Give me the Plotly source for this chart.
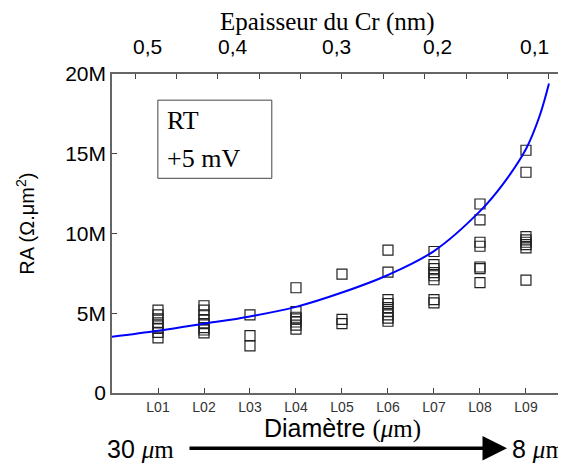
import plotly.graph_objects as go

# sample labels along the bottom axis
categories = ['L01', 'L02', 'L03', 'L04', 'L05', 'L06', 'L07', 'L08', 'L09']

# RA values (M ohm.um^2) read per sample
ra_L01 = [5.2, 4.9, 4.65, 4.4, 4.2, 4.05, 3.8, 3.45]
ra_L02 = [5.47, 5.2, 4.9, 4.6, 4.35, 4.1, 3.95, 3.77]
ra_L03 = [4.9, 3.6, 2.96]
ra_L04 = [6.6, 5.1, 4.75, 4.65, 4.45, 4.25, 4.0]
ra_L05 = [7.45, 4.62, 4.35]
ra_L06 = [8.96, 7.58, 5.85, 5.6, 5.35, 5.1, 4.9, 4.7, 4.5]
ra_L07 = [8.87, 8.05, 7.8, 7.55, 7.35, 7.1, 5.85, 5.65]
ra_L08 = [11.85, 10.85, 9.45, 9.2, 7.9, 7.8, 6.92]
ra_L09 = [15.22, 13.84, 9.8, 9.6, 9.45, 9.3, 9.1, 7.08]
ra_all = [ra_L01, ra_L02, ra_L03, ra_L04, ra_L05, ra_L06, ra_L07, ra_L08, ra_L09]

# fitted curve
fit_x = [0, 1, 2, 3, 4, 5, 6, 7, 8, 8.5, 9, 9.3, 9.5]
fit_y = [3.52, 3.9, 4.34, 4.8, 5.4, 6.3, 7.4, 8.9, 11.4, 13.1, 15.3, 17.4, 19.4]

# top axis (Cr thickness)
top_ticks = [0.5, 1.4, 2.3, 3.2, 4.1, 5.0, 5.9, 6.8, 7.7, 8.6, 9.5]
top_labels = ['0,5', '0,4', '0,3', '0,2', '0,1']
top_label_pos = [0.78, 2.63, 4.89, 7.08, 9.18]

y_ticks = [0, 5, 10, 15, 20]
y_ticktext = ['0', '5M', '10M', '15M', '20M']

SANS = 'Liberation Sans, Arial'
SERIF = 'Liberation Serif, Times New Roman'

fig = go.Figure()

for i, vals in enumerate(ra_all):
    fig.add_trace(go.Scatter(
        x=[i + 1] * len(vals), y=[v * 1e6 for v in vals],
        mode='markers',
        marker=dict(symbol='square-open', size=10, color='#222',
                    line=dict(width=1.2, color='#222')),
        showlegend=False, hoverinfo='y'))

fig.add_trace(go.Scatter(
    x=fit_x, y=[v * 1e6 for v in fit_y], mode='lines',
    line=dict(color='#0000ff', width=2, shape='spline'),
    showlegend=False))

# dummy trace so the top axis gets drawn
fig.add_trace(go.Scatter(x=[0], y=[0], xaxis='x2', mode='markers',
                         marker=dict(opacity=0), showlegend=False,
                         hoverinfo='skip'))

axis_line = dict(showline=True, linecolor='#666', linewidth=1.5,
                 showgrid=False, zeroline=False, ticks='inside',
                 tickcolor='#444', ticklen=5)

ann = []
for lab, pos in zip(top_labels, top_label_pos):
    ann.append(dict(x=pos, y=1.085, xref='x', yref='paper', text=lab,
                    xanchor='center', yanchor='middle', showarrow=False,
                    font=dict(family=SANS, size=21, color='black')))


def note(x, y, text, font, **kw):
    d = dict(x=x, y=y, xref='paper', yref='paper', text=text, showarrow=False,
             xanchor='center', yanchor='middle', font=font)
    d.update(kw)
    return d


ann += [
    note(0.474, 1.163, 'Epaisseur du Cr (nm)', dict(family=SERIF, size=25, color='black')),
    note(-0.19, 0.53, 'RA (Ω.μm<sup>2</sup>)', dict(family=SANS, size=20, color='black'),
         textangle=-90),
    note(0.117, 0.855, 'RT', dict(family=SERIF, size=26, color='black'), xanchor='left'),
    note(0.117, 0.736, '+5 mV', dict(family=SERIF, size=26, color='black'), xanchor='left'),
    note(0.507, -0.112,
         'Diamètre <span style="font-family:Liberation Serif">(<i>μ</i>m)</span>',
         dict(family=SANS, size=25, color='black')),
    note(0.062, -0.176, '30 <span style="font-family:Liberation Serif"><i>μ</i>m</span>',
         dict(family=SANS, size=25, color='black')),
    note(0.940, -0.176, '8 <span style="font-family:Liberation Serif"><i>μ</i>m</span>',
         dict(family=SANS, size=25, color='black')),
    dict(x=0.870, y=-0.173, xref='paper', yref='paper', text='',
         showarrow=True, ax=-319, ay=0, arrowhead=2, arrowsize=1.4,
         arrowwidth=3.5, arrowcolor='black'),
]

# the page body adds an 8px margin, so the figure is 8px smaller
fig.update_layout(
    width=558, height=456,
    margin=dict(l=104, r=0, t=66, b=71),
    paper_bgcolor='white', plot_bgcolor='white',
    xaxis=dict(range=[0, 9.87], tickvals=list(range(1, 10)), ticktext=categories,
               tickfont=dict(family=SANS, size=14, color='#333'), **axis_line),
    xaxis2=dict(range=[0, 9.87], overlaying='x', side='top', tickvals=top_ticks,
                showticklabels=False, **axis_line),
    yaxis=dict(range=[0, 20e6], tickvals=[v * 1e6 for v in y_ticks], ticktext=y_ticktext,
               tickfont=dict(family=SANS, size=21, color='black'), **axis_line),
    annotations=ann,
    shapes=[dict(type='rect', xref='paper', yref='paper',
                 x0=0.101, x1=0.352, y0=0.673, y1=0.918,
                 line=dict(color='#444', width=1), fillcolor='white', layer='below')],
)

fig.write_html('out.html')
